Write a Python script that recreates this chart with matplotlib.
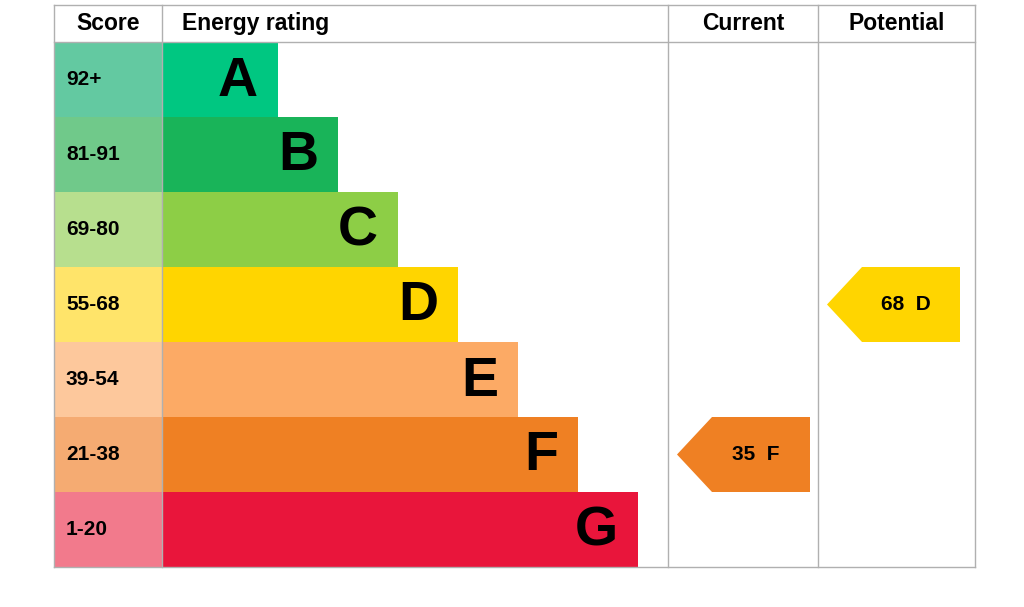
import matplotlib.pyplot as plt
from matplotlib.patches import Rectangle, Polygon

bands = ["A", "B", "C", "D", "E", "F", "G"]
score_ranges = ["92+", "81-91", "69-80", "55-68", "39-54", "21-38", "1-20"]
band_colors = ["#00c781", "#19b459", "#8dce46", "#ffd500", "#fcaa65", "#ef8023", "#e9153b"]
score_colors = ["#63c9a1", "#70c98a", "#b7df8e", "#ffe46a", "#fdc89c", "#f5ab72", "#f27a8c"]
current_score, current_band = 35, "F"
potential_score, potential_band = 68, "D"

plt.rcParams['font.family'] = ['Liberation Sans', 'DejaVu Sans']
fig = plt.figure(figsize=(10.24, 6.07), dpi=100)
ax = fig.add_axes([0, 0, 1, 1])
ax.set_xlim(0, 1024)
ax.set_ylim(607, 0)
ax.set_axis_off()

top, head_h, row_h = 5, 37, 75
x_score, x_bar, x_cur, x_pot, x_end = 54, 162, 668, 818, 975
y0 = top + head_h
bottom = y0 + row_h * len(bands)

# grid lines
line = dict(color="#b0b0b0", lw=1)
for x in [x_score, x_bar, x_cur, x_pot, x_end]:
    ax.plot([x, x], [top, bottom], **line)
ax.plot([x_score, x_end], [top, top], **line)
ax.plot([x_score, x_end], [y0, y0], **line)
ax.plot([x_score, x_end], [bottom, bottom], **line)

hdr = dict(fontsize=16.5, fontweight="bold", va="center")
ax.text((x_score + x_bar) / 2, top + head_h / 2, "Score", ha="center", **hdr)
ax.text(x_bar + 20, top + head_h / 2, "Energy rating", ha="left", **hdr)
ax.text((x_cur + x_pot) / 2, top + head_h / 2, "Current", ha="center", **hdr)
ax.text((x_pot + x_end) / 2, top + head_h / 2, "Potential", ha="center", **hdr)

for i, (b, s) in enumerate(zip(bands, score_ranges)):
    y = y0 + i * row_h
    ax.add_patch(Rectangle((x_score, y), x_bar - x_score, row_h, color=score_colors[i], lw=0))
    ax.text(x_score + 12, y + row_h / 2, s, fontsize=15, fontweight="bold", va="center")
    w = 116 + 60 * i
    ax.add_patch(Rectangle((x_bar, y), w, row_h, color=band_colors[i], lw=0))
    ax.text(x_bar + w - 20, y + row_h / 2 + 2, b, fontsize=40, fontweight="bold",
            ha="right", va="center")


def arrow(x_left, x_right, score, band):
    i = bands.index(band)
    y = y0 + i * row_h
    tip = x_left + 9
    pts = [(tip, y + row_h / 2), (tip + 35, y), (x_right - 8, y),
           (x_right - 8, y + row_h), (tip + 35, y + row_h)]
    ax.add_patch(Polygon(pts, color=band_colors[i], lw=0))
    ax.text((tip + 35 + x_right - 8) / 2 - 5, y + row_h / 2, f"{score}  {band}",
            fontsize=15, fontweight="bold", ha="center", va="center")


arrow(x_cur, x_pot, current_score, current_band)
arrow(x_pot, x_end - 7, potential_score, potential_band)

fig.savefig("out.png", dpi=100)
